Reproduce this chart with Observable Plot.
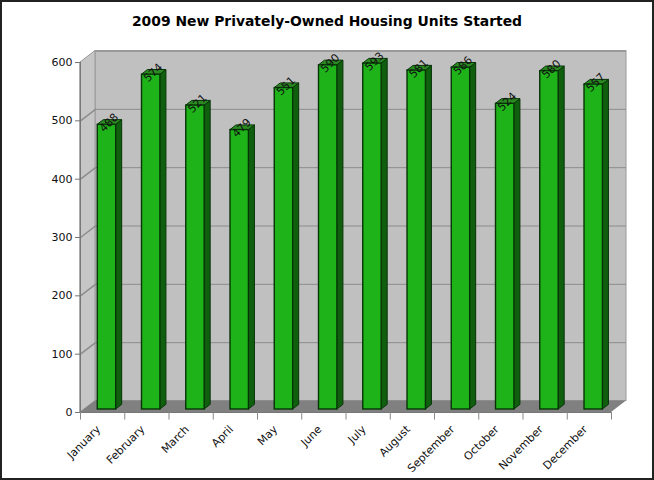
<!DOCTYPE html>
<html>
<head>
<meta charset="utf-8">
<script src="https://cdn.jsdelivr.net/npm/d3@7"></script>
<script src="https://cdn.jsdelivr.net/npm/@observablehq/plot@0.6"></script>
<style>
html,body{margin:0;padding:0;background:#fff;}
#wrap{position:relative;width:654px;height:480px;overflow:hidden;}
#wrap::after{content:"";position:absolute;inset:0;border:2px solid #222;box-sizing:border-box;pointer-events:none;}
#title{height:30px;padding-top:13px;box-sizing:border-box;text-align:center;font:bold 13.9px "DejaVu Sans",sans-serif;line-height:17px;color:#000;white-space:nowrap;}
svg{display:block;}
</style>
</head>
<body>
<div id="wrap">
<div id="title">2009 New Privately-Owned Housing Units Started</div>
</div>
<script>
const months = ["January","February","March","April","May","June","July","August","September","October","November","December"];
const values = [488,574,521,479,551,590,593,581,586,524,580,557];
const yTicks = [0,100,200,300,400,500,600];

// 3D depth, in scale units
const wallDX = 0.339, wallDY = 19.7;
const barStart = 0.39, barWidth = 0.416, barDX = 0.136, barDY = 8;
const barLift = -3;
const tickLen = 0.113;

const bars = months.map((m,i)=>({month:m,i,value:values[i],x1:i+barStart,x2:i+barStart+barWidth,x3:i+barStart+barWidth+barDX}));
const side = bars.flatMap(b=>[
  {month:b.month,x:b.x2,y1:0,y2:b.value},
  {month:b.month,x:b.x3,y1:barDY,y2:b.value+barDY}
]);
const top_ = bars.flatMap(b=>[
  {month:b.month,y:b.value,x1:b.x1,x2:b.x2},
  {month:b.month,y:b.value+barDY,x1:b.x1+barDX,x2:b.x3}
]);
const leftWall = [{x:0,y1:0,y2:600},{x:wallDX,y1:wallDY,y2:600+wallDY}];
const floor = [{y:0,x1:0,x2:12},{y:wallDY,x1:wallDX,x2:12+wallDX}];
const grid = yTicks.flatMap(v=>[{v,x:0,y:v},{v,x:wallDX,y:v+wallDY}]);

const GRID = "#8c8c8c";
const EDGE = "#063406";
const chart = Plot.plot({
  width:654, height:450,
  marginTop:32, marginBottom:68, marginLeft:80, marginRight:43,
  x:{type:"linear",domain:[0,12],axis:null},
  y:{type:"linear",domain:[0,600],axis:null},
  style:{background:"transparent"},
  marks:[
    Plot.rect([{}],{x1:()=>wallDX,x2:()=>12+wallDX,y1:()=>wallDY,y2:()=>600+wallDY,fill:"#c0c0c0",stroke:"#9a9a9a"}),
    Plot.ruleY([600+wallDY],{x1:wallDX,x2:12+wallDX,stroke:"#9a9a9a",strokeWidth:2}),
    Plot.areaY(leftWall,{x:"x",y1:"y1",y2:"y2",fill:"#c6c6c6",stroke:"#999",curve:"linear"}),
    Plot.areaX(floor,{y:"y",x1:"x1",x2:"x2",fill:"#808080",curve:"linear"}),
    Plot.ruleY(yTicks.filter(v=>v>0&&v<600).map(v=>v+wallDY),{x1:wallDX,x2:12+wallDX,stroke:GRID}),
    Plot.line(grid.filter(d=>d.v>0&&d.v<600),{x:"x",y:"y",z:"v",stroke:GRID,curve:"linear"}),
    Plot.ruleY([0],{x1:0,x2:12,stroke:"#777"}),
    Plot.ruleX([0],{y1:0,y2:600,stroke:"#777"}),
    Plot.ruleY(yTicks,{x1:-tickLen,x2:0,stroke:"#777"}),
    Plot.ruleX(d3.range(13),{y1:0,y2:-13,stroke:"#888"}),
    Plot.areaY(side,{x:"x",y1:"y1",y2:"y2",z:"month",fill:"#0f5f0f",stroke:EDGE,strokeWidth:1,dy:barLift,curve:"linear"}),
    Plot.areaX(top_,{y:"y",x1:"x1",x2:"x2",z:"month",fill:"#2b8a22",stroke:EDGE,strokeWidth:1,dy:barLift,curve:"linear"}),
    Plot.rect(bars,{x1:"x1",x2:"x2",y1:()=>0,y2:"value",fill:"#1fb31a",stroke:EDGE,strokeWidth:1.4,dy:barLift}),
    Plot.text(bars,{x:d=>d.i+barStart+barWidth/2,y:"value",text:d=>String(d.value),rotate:-45,dx:2,dy:-5,fontSize:11,fill:"#111",fontFamily:"DejaVu Sans"}),
    Plot.text(yTicks,{x:()=>0,y:d=>d,text:d=>String(d),textAnchor:"end",dx:-8,fontSize:11,fill:"#111",fontFamily:"DejaVu Sans"}),
    Plot.text(bars,{x:d=>d.i+0.5,y:()=>0,text:"month",rotate:-45,textAnchor:"end",dx:-4,dy:15,fontSize:11,fill:"#111",fontFamily:"DejaVu Sans"})
  ]
});
document.getElementById("wrap").appendChild(chart);
</script>
</body>
</html>
